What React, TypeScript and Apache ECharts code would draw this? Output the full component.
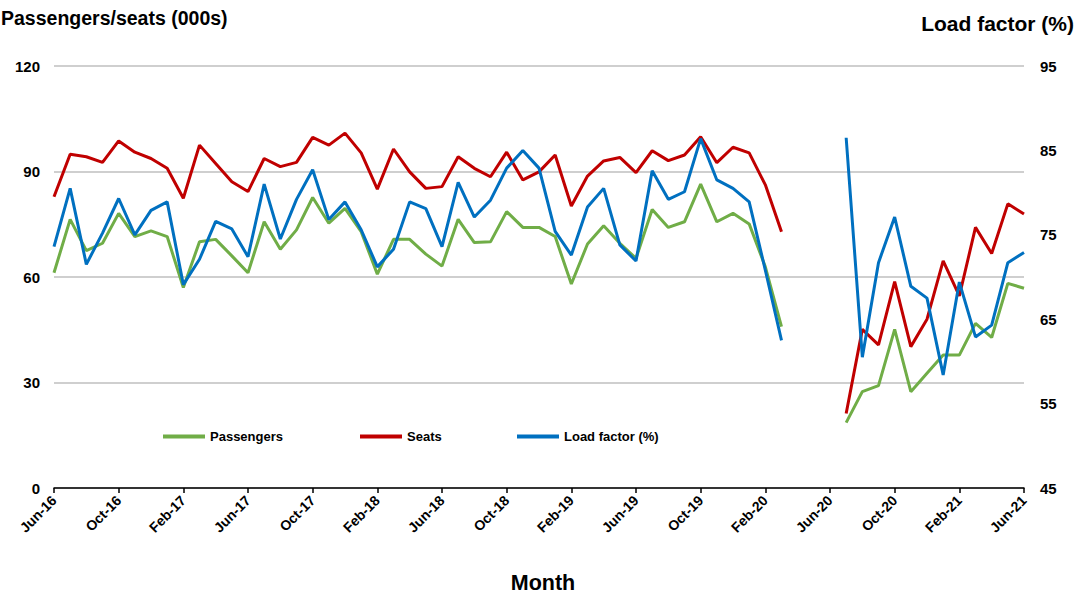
import React, { useEffect, useRef } from "react";
import * as echarts from "echarts";

const months = [
  "Jun-16","Jul-16","Aug-16","Sep-16","Oct-16","Nov-16","Dec-16","Jan-17","Feb-17","Mar-17","Apr-17","May-17",
  "Jun-17","Jul-17","Aug-17","Sep-17","Oct-17","Nov-17","Dec-17","Jan-18","Feb-18","Mar-18","Apr-18","May-18",
  "Jun-18","Jul-18","Aug-18","Sep-18","Oct-18","Nov-18","Dec-18","Jan-19","Feb-19","Mar-19","Apr-19","May-19",
  "Jun-19","Jul-19","Aug-19","Sep-19","Oct-19","Nov-19","Dec-19","Jan-20","Feb-20","Mar-20","Apr-20","May-20",
  "Jun-20","Jul-20","Aug-20","Sep-20","Oct-20","Nov-20","Dec-20","Jan-21","Feb-21","Mar-21","Apr-21","May-21",
  "Jun-21",
];

const passengers = [
  61.2, 76.4, 67.5, 69.6, 78.1, 71.5, 73.1, 71.5, 57.0, 70.0, 70.7, 66.0,
  61.2, 75.7, 67.9, 73.4, 82.6, 75.3, 79.5, 72.9, 60.8, 70.7, 70.7, 66.5,
  63.1, 76.4, 69.8, 70.0, 78.6, 74.1, 74.1, 71.5, 58.0, 69.4, 74.6, 69.6,
  65.3, 79.2, 74.1, 75.7, 86.4, 75.7, 78.1, 75.1, 62.9, 45.9, null, null,
  null, 18.6, 27.4, 29.1, 45.1, 27.4, 32.6, 37.8, 37.8, 46.8, 42.8, 58.2,
  56.8,
];

const seats = [
  82.8, 94.9, 94.2, 92.6, 98.7, 95.5, 93.7, 90.9, 82.4, 97.5, 92.3, 87.1,
  84.3, 93.7, 91.4, 92.6, 99.7, 97.5, 100.9, 95.3, 85.0, 96.4, 89.9, 85.2,
  85.7, 94.2, 90.9, 88.5, 95.5, 87.6, 89.9, 94.7, 80.2, 88.7, 93.0, 94.0,
  89.7, 95.9, 93.1, 94.7, 99.9, 92.5, 96.9, 95.3, 86.2, 72.9, null, null,
  null, 21.2, 45.1, 40.7, 58.7, 40.2, 48.0, 64.6, 54.6, 74.1, 66.7, 80.8,
  77.9,
];

const loadFactor = [
  73.6, 80.5, 71.5, 75.2, 79.3, 75.0, 77.9, 78.9, 69.1, 72.1, 76.6, 75.7,
  72.4, 81.0, 74.5, 79.2, 82.7, 76.8, 78.9, 75.6, 71.2, 73.3, 78.9, 78.1,
  73.6, 81.2, 77.1, 79.1, 82.9, 85.0, 82.9, 75.4, 72.6, 78.3, 80.5, 73.8,
  71.9, 82.6, 79.2, 80.1, 86.4, 81.5, 80.5, 78.9, 70.8, 62.5, null, null,
  null, 86.5, 60.5, 71.7, 77.1, 68.9, 67.5, 58.4, 69.4, 62.9, 64.3, 71.7,
  72.9,
];

const leftTicks = { min: 0, max: 120, interval: 30 };
const rightTicks = { min: 45, max: 95, interval: 10 };

const FONT = "'Liberation Sans', Arial, sans-serif";
const GREEN = "#70AD47";
const RED = "#C00000";
const BLUE = "#0070C0";

export default function App() {
  const ref = useRef<HTMLDivElement>(null);

  useEffect(() => {
    if (!ref.current) return;
    const chart = echarts.init(ref.current, undefined, { renderer: "svg" });
    const legendText = { fontFamily: FONT, fontWeight: "bold", fontSize: 13, color: "#000" };
    const mkLegend = (name: string, left: number) => ({
      data: [name],
      left,
      top: 425,
      icon: "rect",
      itemWidth: 42,
      itemHeight: 4,
      textStyle: legendText,
      selectedMode: false,
    });
    const axisLabelStyle = { fontFamily: FONT, fontWeight: "bold", fontSize: 15, color: "#000" };
    chart.setOption({
      animation: false,
      backgroundColor: "#fff",
      grid: { left: 54, right: 54, top: 66, bottom: 106, containLabel: false },
      legend: [
        mkLegend("Passengers", 158),
        mkLegend("Seats", 355),
        mkLegend("Load factor (%)", 512),
      ],
      xAxis: {
        type: "category",
        data: months,
        boundaryGap: false,
        axisLine: { show: true, lineStyle: { color: "#000", width: 1.5 } },
        axisTick: { show: true, interval: 3, length: 5, lineStyle: { color: "#000", width: 1.5 } },
        axisLabel: {
          interval: 3,
          rotate: 45,
          margin: 10,
          fontFamily: FONT,
          fontWeight: "bold",
          fontSize: 14,
          color: "#000",
        },
        splitLine: { show: false },
      },
      yAxis: [
        {
          type: "value",
          position: "left",
          ...leftTicks,
          axisLine: { show: false },
          axisTick: { show: false },
          axisLabel: { margin: 14, ...axisLabelStyle },
          splitLine: { show: true, lineStyle: { color: "#BFBFBF", width: 1.5 } },
        },
        {
          type: "value",
          position: "right",
          ...rightTicks,
          axisLine: { show: false },
          axisTick: { show: false },
          axisLabel: { margin: 16, ...axisLabelStyle },
          splitLine: { show: false },
        },
      ],
      graphic: [
        {
          type: "text",
          x: 1,
          y: 18,
          style: {
            text: "Passengers/seats (000s)",
            textAlign: "left",
            textVerticalAlign: "middle",
            font: `bold 19.5px ${FONT}`,
            fill: "#000",
          },
        },
        {
          type: "text",
          x: 1074,
          y: 23,
          style: {
            text: "Load factor (%)",
            textAlign: "right",
            textVerticalAlign: "middle",
            font: `bold 21px ${FONT}`,
            fill: "#000",
          },
        },
        {
          type: "text",
          x: 543,
          y: 583,
          style: {
            text: "Month",
            textAlign: "center",
            textVerticalAlign: "middle",
            font: `bold 21.5px ${FONT}`,
            fill: "#000",
          },
        },
      ],
      series: [
        {
          name: "Passengers",
          type: "line",
          yAxisIndex: 0,
          data: passengers,
          symbol: "none",
          lineStyle: { color: GREEN, width: 3 },
          itemStyle: { color: GREEN },
          connectNulls: false,
        },
        {
          name: "Seats",
          type: "line",
          yAxisIndex: 0,
          data: seats,
          symbol: "none",
          lineStyle: { color: RED, width: 3 },
          itemStyle: { color: RED },
          connectNulls: false,
        },
        {
          name: "Load factor (%)",
          type: "line",
          yAxisIndex: 1,
          data: loadFactor,
          symbol: "none",
          lineStyle: { color: BLUE, width: 3 },
          itemStyle: { color: BLUE },
          connectNulls: false,
        },
      ],
    });
    return () => chart.dispose();
  }, []);

  return (
    <div
      ref={ref}
      style={{ position: "fixed", left: 0, top: 0, width: 1078, height: 594, background: "#fff" }}
    />
  );
}
